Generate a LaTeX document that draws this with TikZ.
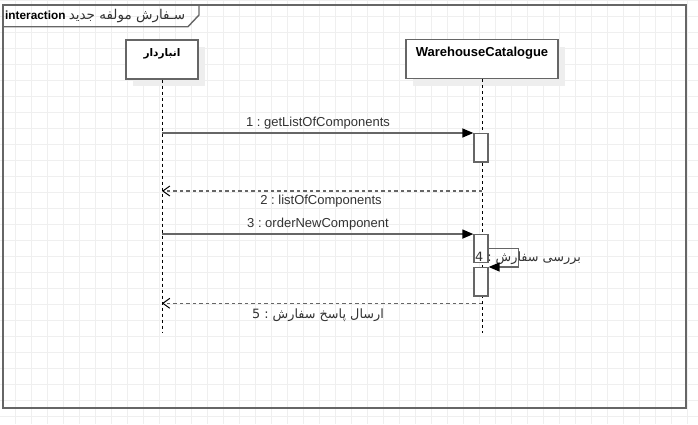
\documentclass[tikz,border=0pt]{standalone}
\usepackage{fontspec}
\setmainfont{Liberation Sans}
\newfontfamily\arabicfont[Script=Arabic]{DejaVu Sans}
\TeXXeTstate=1
\frenchspacing
\usetikzlibrary{arrows.meta,shadows}
\definecolor{gridcol}{HTML}{EFEFEF}
\definecolor{linecol}{HTML}{666666}
\definecolor{shadowcol}{HTML}{EEEEEE}
\definecolor{textcol}{HTML}{333333}
\tikzset{
  gridline/.style={draw=gridcol, line width=1pt},
  frameline/.style={draw=linecol, line width=1.4pt},
  lifehead/.style={draw=linecol, fill=white, line width=1.3pt, minimum width=72pt, minimum height=39pt, inner sep=0pt,
    general shadow={fill=shadowcol, shadow xshift=7pt, shadow yshift=-7pt}},
  actbox/.style={draw=linecol, fill=white, line width=1.3pt, minimum width=14pt, inner sep=0pt},
  lifeline/.style={draw=black, line width=1pt, dash pattern=on 3pt off 3pt},
  syncmsg/.style={draw=linecol, line width=1.4pt, -{Triangle[length=11pt,width=9pt,black]}},
  retmsg/.style={draw=linecol, line width=1.3pt, dash pattern=on 3.5pt off 3pt, -{Straight Barb[length=7pt,width=10pt,line width=1pt,black]}},
  msglabel/.style={text=textcol, font=\fontsize{13}{15}\selectfont, inner sep=0pt},
  falabel/.style={text=textcol, font=\arabicfont\fontsize{12.8}{15}\selectfont, inner sep=0pt},
  headlabel/.style={text=black, font=\bfseries\fontsize{13}{15}\selectfont, inner sep=0pt}
}
\begin{document}
\begin{tikzpicture}[x=1pt,y=-1pt]
\useasboundingbox (0,0) rectangle (698,424);
\fill[white] (0,0) rectangle (698,424);
% grid
\foreach \gx in {15,31,...,687} \draw[gridline] (\gx,0) -- (\gx,424);
\foreach \gy in {0.5,16.5,...,416.5} \draw[gridline] (0,\gy) -- (698,\gy);
% frame
\draw[frameline] (3,5) rectangle (686,408);
\draw[frameline] (3,26.7) -- (188,26.7) -- (199,15) -- (199,5);
\node[anchor=west, inner sep=0pt] (title) at (5,16) {\bfseries\fontsize{11.8}{14}\selectfont interaction\ \mdseries{\color{textcol}\arabicfont\fontsize{13.5}{15}\selectfont\beginR سـفارش مولفه جدید\endR}};
% lifeline heads
\node[lifehead] (a) at (162,59.5) {};
\node[headlabel, font=\arabicfont\bfseries\fontsize{10.5}{12}\selectfont] (alab) at (162,54) {\beginR انباردار\endR};
\node[lifehead, minimum width=152pt] (b) at (482,59.2) {};
\node[headlabel] (blab) at (482,53) {WarehouseCatalogue};
% lifeline ends
\coordinate (aend) at (162,333);
\coordinate (bend) at (482,333);
\draw[lifeline] (a.south) -- (aend);
\draw[lifeline] (b.south) -- (bend);
% activations
\node[actbox, minimum height=28.3pt] (act1) at (481,147.8) {};
\node[actbox, minimum height=28pt] (act2) at (481,248.7) {};
\node[actbox, minimum height=28.3pt] (act3) at (481,281.8) {};
% messages
\draw[syncmsg] (a.south |- act1.north west) -- (act1.north west);
\node[msglabel] (l1) at (318,123) {1 : getListOfComponents};
\coordinate (m2) at (482,191);
\draw[retmsg] (m2) -- (a.south |- m2);
\node[msglabel] (l2) at (321,201) {2 : listOfComponents};
\draw[syncmsg] (a.south |- act2.north west) -- (act2.north west);
\node[msglabel] (l3) at (318,224) {3 : orderNewComponent};
\node[falabel] (l4) at (528,258) {\beginR بررسی سفارش : 4\endR};
\draw[syncmsg] (act2.east) -- ++(30,0) |- (act3.north east);
\coordinate (m5) at (482,303.3);
\draw[retmsg] (m5) -- (a.south |- m5);
\node[falabel] (l5) at (318,315) {\beginR ارسال پاسخ سفارش : 5\endR};
\end{tikzpicture}
\end{document}
